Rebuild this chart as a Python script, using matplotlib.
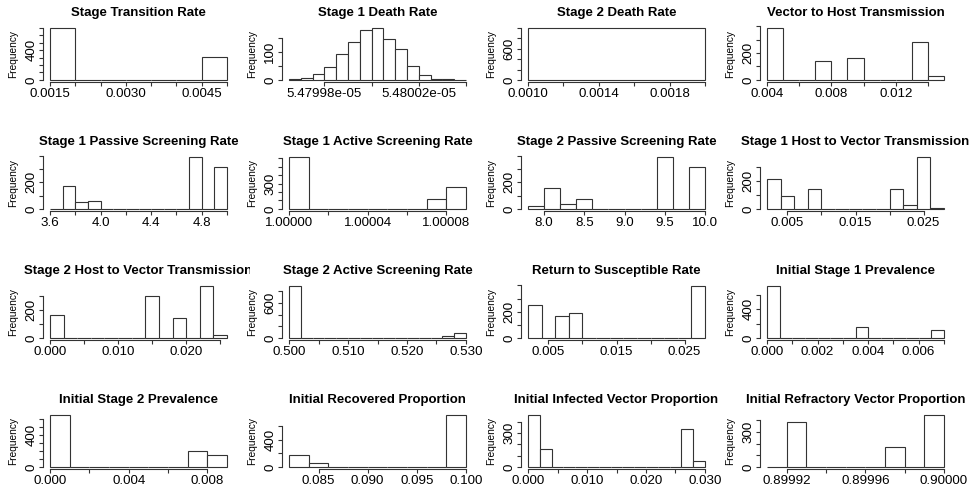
import matplotlib
matplotlib.use("Agg")
import matplotlib.pyplot as plt
from matplotlib.patches import Rectangle
import numpy as np

plt.rcParams['font.family'] = ['Liberation Sans', 'DejaVu Sans']

titles = [
    "Stage Transition Rate", "Stage 1 Death Rate", "Stage 2 Death Rate",
    "Vector to Host Transmission",
    "Stage 1 Passive Screening Rate", "Stage 1 Active Screening Rate",
    "Stage 2 Passive Screening Rate", "Stage 1 Host to Vector Transmission",
    "Stage 2 Host to Vector Transmission", "Stage 2 Active Screening Rate",
    "Return to Susceptible Rate", "Initial Stage 1 Prevalence",
    "Initial Stage 2 Prevalence", "Initial Recovered Proportion",
    "Initial Infected Vector Proportion", "Initial Refractory Vector Proportion",
]

# first break and bin width of each histogram
bin_start = [0.0015, 5.479965e-05, 0.0010, 0.004,
             3.6, 1.0, 7.8, 0.002,
             0.0, 0.500, 0.002, 0.0,
             0.0, 0.082, 0.0, 0.89991]
bin_width = [0.0005, 0.5e-10, 0.0010, 0.001,
             0.1, 0.00001, 0.2, 0.002,
             0.002, 0.002, 0.002, 0.0005,
             0.001, 0.002, 0.002, 0.00001]

# frequencies per bin
counts = [
    [697, 0, 0, 0, 0, 0, 303],
    [2, 8, 22, 47, 92, 137, 180, 186, 147, 110, 49, 17, 2, 2, 1],
    [1000],
    [385, 0, 0, 140, 0, 165, 0, 0, 0, 280, 30],
    [3, 175, 55, 62, 0, 0, 0, 0, 0, 0, 0, 390, 0, 312],
    [615, 0, 0, 0, 0, 0, 0, 123, 262],
    [25, 160, 38, 75, 0, 0, 0, 0, 390, 0, 312],
    [212, 90, 0, 146, 0, 0, 0, 0, 0, 141, 31, 372, 8],
    [165, 0, 0, 0, 0, 0, 0, 298, 0, 140, 3, 370, 24],
    [889, 0, 0, 0, 0, 0, 0, 0, 0, 0, 0, 0, 0, 28, 83],
    [252, 0, 165, 188, 0, 0, 0, 0, 0, 0, 0, 0, 395],
    [725, 0, 0, 0, 0, 0, 0, 158, 5, 0, 0, 0, 0, 112],
    [655, 0, 0, 0, 0, 0, 0, 195, 150],
    [180, 60, 0, 0, 0, 0, 0, 0, 760],
    [460, 155, 0, 0, 0, 0, 0, 0, 0, 0, 0, 0, 0, 335, 50],
    [3, 385, 0, 0, 0, 0, 167, 0, 445],
]

# x axis ticks and the labels R managed to fit
x_ticks = [
    [0.0015, 0.0020, 0.0025, 0.0030, 0.0035, 0.0040, 0.0045, 0.0050],
    [5.47998e-05, 5.48000e-05, 5.48002e-05, 5.48004e-05],
    [0.0010, 0.0012, 0.0014, 0.0016, 0.0018, 0.0020],
    [0.004, 0.006, 0.008, 0.010, 0.012, 0.014],
    [3.6, 3.8, 4.0, 4.2, 4.4, 4.6, 4.8, 5.0],
    [1.00000, 1.00002, 1.00004, 1.00006, 1.00008],
    [8.0, 8.5, 9.0, 9.5, 10.0],
    [0.005, 0.010, 0.015, 0.020, 0.025],
    [0.000, 0.005, 0.010, 0.015, 0.020, 0.025],
    [0.500, 0.505, 0.510, 0.515, 0.520, 0.525, 0.530],
    [0.005, 0.010, 0.015, 0.020, 0.025],
    [0.000, 0.001, 0.002, 0.003, 0.004, 0.005, 0.006, 0.007],
    [0.000, 0.002, 0.004, 0.006, 0.008],
    [0.085, 0.090, 0.095, 0.100],
    [0.000, 0.005, 0.010, 0.015, 0.020, 0.025, 0.030],
    [0.89992, 0.89994, 0.89996, 0.89998, 0.90000],
]
x_labels = [
    ["0.0015", "", "", "0.0030", "", "", "0.0045", ""],
    ["5.47998e-05", "", "5.48002e-05", ""],
    ["0.0010", "", "0.0014", "", "0.0018", ""],
    ["0.004", "", "0.008", "", "0.012", ""],
    ["3.6", "", "4.0", "", "4.4", "", "4.8", ""],
    ["1.00000", "", "1.00004", "", "1.00008"],
    ["8.0", "8.5", "9.0", "9.5", "10.0"],
    ["0.005", "", "0.015", "", "0.025"],
    ["0.000", "", "0.010", "", "0.020", ""],
    ["0.500", "", "0.510", "", "0.520", "", "0.530"],
    ["0.005", "", "0.015", "", "0.025"],
    ["0.000", "", "0.002", "", "0.004", "", "0.006", ""],
    ["0.000", "", "0.004", "", "0.008"],
    ["0.085", "0.090", "0.095", "0.100"],
    ["0.000", "", "0.010", "", "0.020", "", "0.030"],
    ["0.89992", "", "0.89996", "", "0.90000"],
]

# y axis tick step and which ticks carry a label
y_step = [100, 50, 200, 100,
          100, 100, 100, 100,
          100, 200, 100, 200,
          100, 200, 100, 100]
y_shown = [[0, 400], [0, 100], [0, 600], [0, 200],
           [0, 200], [0, 300], [0, 200], [0, 200],
           [0, 200], [0, 600], [0, 200], [0, 400],
           [0, 400], [0, 400], [0, 300], [0, 300]]

W, H = 972, 493
fig = plt.figure(figsize=(W / 100, H / 100), dpi=100)

line_col = "#333333"
for i in range(16):
    r, c = divmod(i, 4)
    left, top, pw, ph = 43 + 239 * c, 26 + 129 * r, 191, 56
    ax = fig.add_axes([left / W, 1 - (top + ph) / H, pw / W, ph / H])

    cnt = np.array(counts[i], dtype=float)
    edges = bin_start[i] + bin_width[i] * np.arange(len(cnt) + 1)
    ax.bar(edges[:-1], cnt, width=bin_width[i], align="edge",
           facecolor="white", edgecolor=line_col, linewidth=0.8)

    # R style: 4% padding around the data range
    lo, hi = edges[0], edges[-1]
    span = hi - lo
    ax.set_xlim(lo - 0.04 * span, hi + 0.04 * span)
    top_cnt = cnt.max()
    ax.set_ylim(-0.04 * top_cnt, 1.04 * top_cnt)

    yt = np.arange(0, 1.04 * top_cnt + 1e-9, y_step[i])
    ax.set_yticks(yt)
    ax.set_yticklabels([str(int(v)) if int(v) in y_shown[i] else "" for v in yt],
                       rotation=90, va="center")
    ax.set_xticks(x_ticks[i])
    ax.set_xticklabels(x_labels[i])

    for s in ("top", "right"):
        ax.spines[s].set_visible(False)
    ax.spines["left"].set_bounds(0, yt[-1])
    ax.spines["bottom"].set_bounds(x_ticks[i][0], x_ticks[i][-1])
    for s in ("left", "bottom"):
        ax.spines[s].set_color(line_col)
        ax.spines[s].set_linewidth(0.8)
    ax.tick_params(axis="both", direction="out", length=3.0, width=0.8,
                   color=line_col, labelsize=9.6, pad=1)

    t = ax.set_title(titles[i], fontsize=9.55, fontweight="bold", pad=7.5)
    # long titles get cut at the edge of their cell
    cell = Rectangle((243 * c / W, 0), 250 / W, 1, transform=fig.transFigure)
    t.set_clip_path(cell)
    ax.set_ylabel("Frequency", fontsize=7.3)
    ax.yaxis.set_label_coords(-0.132, 0.5)

fig.savefig("out.png", dpi=100)
